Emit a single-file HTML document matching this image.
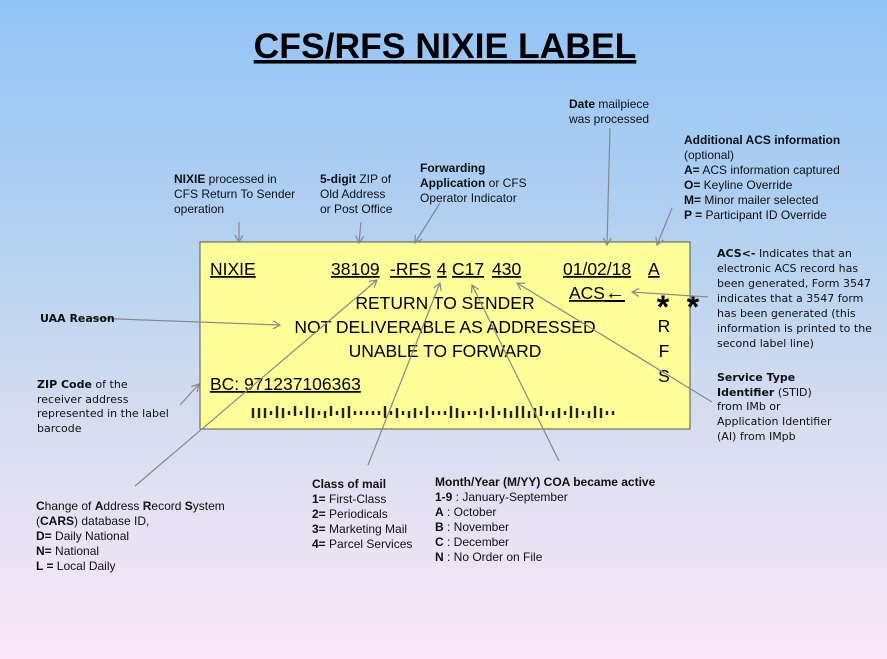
<!DOCTYPE html>
<html><head><meta charset="utf-8"><style>
html,body{margin:0;padding:0}
body{width:887px;height:659px;overflow:hidden;background:linear-gradient(#92c4f6 0%,#b8d3f0 40%,#d8ddf0 65%,#fae8f8 100%)}
svg{display:block}
.n{font-family:"Liberation Sans",sans-serif;font-size:12px;fill:#111}
.v{font-family:"DejaVu Sans",sans-serif;font-size:11px;fill:#111}
.b{font-weight:bold}
.L{font-family:"Liberation Sans",sans-serif;font-size:17.5px;fill:#000}
</style></head><body>
<svg width="887" height="659" xmlns="http://www.w3.org/2000/svg">
<defs><marker id="a" markerWidth="10" markerHeight="10" refX="8" refY="5" orient="auto" markerUnits="userSpaceOnUse"><path d="M1,1 L8,5 L1,9" fill="none" stroke="#888" stroke-width="1.2"/></marker></defs>
<text x="445" y="58" text-anchor="middle" font-family="Liberation Sans,sans-serif" font-weight="bold" font-size="35.5" fill="#000" text-decoration="underline">CFS/RFS NIXIE LABEL</text>
<rect x="200" y="242" width="490" height="187" fill="#ffff99" stroke="#555" stroke-width="1"/>
<g class="L">
<text x="210" y="275" text-decoration="underline">NIXIE</text>
<text x="331" y="275" text-decoration="underline">38109</text>
<text x="390" y="275" text-decoration="underline">-RFS</text>
<text x="437" y="275" text-decoration="underline">4</text>
<text x="452" y="275" text-decoration="underline">C17</text>
<text x="492" y="275" text-decoration="underline">430</text>
<text x="563" y="275" text-decoration="underline">01/02/18</text>
<text x="648" y="275" text-decoration="underline">A</text>
<text x="569" y="299" text-decoration="underline">ACS<tspan font-size="20">←</tspan></text>
<text x="445" y="309" text-anchor="middle">RETURN TO SENDER</text>
<text x="445" y="333" text-anchor="middle">NOT DELIVERABLE AS ADDRESSED</text>
<text x="445" y="357" text-anchor="middle">UNABLE TO FORWARD</text>
<text x="664" y="332" text-anchor="middle">R</text>
<text x="664" y="357" text-anchor="middle">F</text>
<text x="664" y="382" text-anchor="middle">S</text>
<text x="210" y="390" text-decoration="underline">BC: 971237106363</text>
</g>
<text x="663" y="318" text-anchor="middle" font-family="Liberation Sans,sans-serif" font-weight="bold" font-size="32">*</text>
<text x="693" y="318" text-anchor="middle" font-family="Liberation Sans,sans-serif" font-weight="bold" font-size="32">*</text>
<g stroke="#222" stroke-width="1.6" transform="translate(253,0) scale(1.5,1) translate(-253,0)">
<path d="M253 408v10M257 408v10M261 408v10M265 411v4M269 406v12M273 408v10M277 411v4M281 406v10M285 411v4M289 406v12M293 408v10M297 411v4M301 411v7M305 406v10M309 411v4M313 408v10M317 406v12M321 411v4M325 411v4M329 411v4M333 411v4M337 411v4M341 406v12M345 411v4M349 408v10M353 411v4M357 411v7M361 408v10M365 411v4M369 406v12M373 411v4M377 411v4M381 411v4M385 406v12M389 408v10M393 411v7M397 411v4M401 411v4M405 408v10M409 411v4M413 406v12M417 411v4M421 408v10M425 411v7M429 406v12M433 406v12M437 411v7M441 408v10M445 406v10M449 411v4M453 411v7M457 408v10M461 411v4M465 406v12M469 408v10M473 411v4M477 411v7M481 406v12M485 408v10M489 411v4M493 411v4"/>
</g>
<g stroke="#888" stroke-width="1.2" fill="none" marker-end="url(#a)">
<line x1="239" y1="222" x2="239" y2="242"/>
<line x1="361" y1="222" x2="359" y2="243"/>
<line x1="440" y1="203" x2="415" y2="243"/>
<line x1="610" y1="128" x2="607" y2="245"/>
<line x1="672" y1="208" x2="657" y2="245"/>
<line x1="708" y1="297" x2="632" y2="292"/>
<line x1="90" y1="318" x2="280" y2="325"/>
<line x1="180" y1="405" x2="199" y2="384"/>
<line x1="135" y1="486" x2="377" y2="280"/>
<line x1="368" y1="465" x2="440" y2="283"/>
<line x1="559" y1="461" x2="472" y2="285"/>
<line x1="712" y1="402" x2="517" y2="283"/>
</g>
<g class="n">
<text x="569" y="108"><tspan class="b">Date</tspan> mailpiece</text>
<text x="569" y="123">was processed</text>
<text x="684" y="144" class="b">Additional ACS information</text>
<text x="684" y="159">(optional)</text>
<text x="684" y="174"><tspan class="b">A=</tspan> ACS information captured</text>
<text x="684" y="189"><tspan class="b">O=</tspan> Keyline Override</text>
<text x="684" y="204"><tspan class="b">M=</tspan> Minor mailer selected</text>
<text x="684" y="219"><tspan class="b">P =</tspan> Participant ID Override</text>
<text x="174" y="183"><tspan class="b">NIXIE</tspan>  processed in</text>
<text x="174" y="198">CFS Return To Sender</text>
<text x="174" y="213">operation</text>
<text x="320" y="183"><tspan class="b">5-digit</tspan> ZIP of</text>
<text x="320" y="198">Old Address</text>
<text x="320" y="213">or Post Office</text>
<text x="420" y="172" class="b">Forwarding</text>
<text x="420" y="187"><tspan class="b">Application</tspan> or CFS</text>
<text x="420" y="202">Operator Indicator</text>
<text x="36" y="510"><tspan class="b">C</tspan>hange of <tspan class="b">A</tspan>ddress <tspan class="b">R</tspan>ecord <tspan class="b">S</tspan>ystem</text>
<text x="36" y="525">(<tspan class="b">CARS</tspan>) database ID,</text>
<text x="36" y="540"><tspan class="b">D=</tspan> Daily National</text>
<text x="36" y="555"><tspan class="b">N=</tspan> National</text>
<text x="36" y="570"><tspan class="b">L =</tspan> Local Daily</text>
<text x="312" y="488" class="b">Class of mail</text>
<text x="312" y="503"><tspan class="b">1=</tspan> First-Class</text>
<text x="312" y="518"><tspan class="b">2=</tspan> Periodicals</text>
<text x="312" y="533"><tspan class="b">3=</tspan> Marketing Mail</text>
<text x="312" y="548"><tspan class="b">4=</tspan> Parcel Services</text>
<text x="435" y="486" class="b">Month/Year (M/YY) COA became active</text>
<text x="435" y="501"><tspan class="b">1-9</tspan> : January-September</text>
<text x="435" y="516"><tspan class="b">A</tspan> : October</text>
<text x="435" y="531"><tspan class="b">B</tspan> : November</text>
<text x="435" y="546"><tspan class="b">C</tspan> : December</text>
<text x="435" y="561"><tspan class="b">N</tspan> : No Order on File</text>
</g>
<g class="v">
<text x="40" y="322" class="b">UAA Reason</text>
<text x="37" y="388"><tspan class="b">ZIP Code</tspan> of the</text>
<text x="37" y="403">receiver address</text>
<text x="37" y="417">represented in the label</text>
<text x="37" y="432">barcode</text>
<text x="717" y="257"><tspan class="b">ACS&lt;-</tspan> Indicates that an</text>
<text x="717" y="272">electronic ACS record has</text>
<text x="717" y="287">been generated, Form 3547</text>
<text x="717" y="302">indicates that a 3547 form</text>
<text x="717" y="317">has been generated (this</text>
<text x="717" y="332">information is printed to the</text>
<text x="717" y="347">second label line)</text>
<text x="717" y="381" class="b">Service Type</text>
<text x="717" y="396"><tspan class="b">Identifier</tspan> (STID)</text>
<text x="717" y="410">from IMb or</text>
<text x="717" y="425">Application Identifier</text>
<text x="717" y="440">(AI) from IMpb</text>
</g>
</svg>
</body></html>
